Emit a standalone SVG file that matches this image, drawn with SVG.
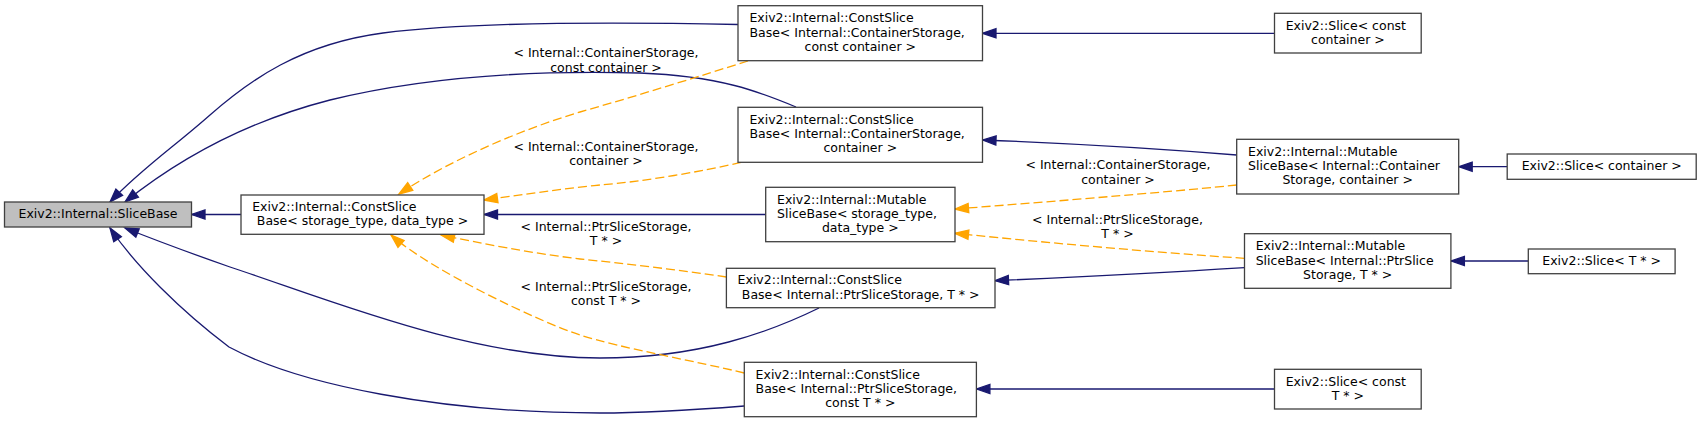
<svg xmlns="http://www.w3.org/2000/svg" width="1701" height="423" viewBox="0 0 1701 423">
<style>
text{font-family:"DejaVu Sans","Liberation Sans",sans-serif;font-size:12.5px;fill:#000}
.n rect{fill:#fff;stroke:#404040;stroke-width:1.3}
.n.f rect{fill:#bfbfbf}
.m{text-anchor:middle}
.e path{fill:none;stroke-width:1.3}
.b{stroke:#191970;marker-end:url(#ab)}
.o{stroke:#ffa500;stroke-dasharray:9,4;marker-end:url(#ao)}
</style>
<defs>
<marker id="ab" markerWidth="16" markerHeight="12" refX="13.5" refY="6" orient="auto" markerUnits="userSpaceOnUse" overflow="visible"><path d="M13.5,6 L0,1.4 L0,10.6 Z" fill="#191970" stroke="#191970" stroke-width="1.3"/></marker>
<marker id="ao" markerWidth="16" markerHeight="12" refX="13.5" refY="6" orient="auto" markerUnits="userSpaceOnUse" overflow="visible"><path d="M13.5,6 L0,1.4 L0,10.6 Z" fill="#ffa500" stroke="#ffa500" stroke-width="1.3"/></marker>
</defs>
<rect width="1701" height="423" fill="#fff"/>
<g id="edges" class="e">
<path class="b" d="M241,214.5 L191.5,214.5"/>
<path class="b" d="M738,24.5 C620,22 470,22 383,33 C300,44 250,80 210,115 C175,146 140,170 110,202"/>
<path class="b" d="M796,107 C760,92 720,76 640,73 C530,70 420,78 330,100 C260,118 190,150 125,202"/>
<path class="b" d="M819,308 C770,332 700,358 600,358 C470,358 330,300 230,267 C190,253 155,240 125,228"/>
<path class="b" d="M744.3,406 C680,411 640,413 600,413 C440,413 300,385 229,347 C180,310 135,265 110,228"/>
<path class="b" d="M765.7,214.5 L484,214.5"/>
<path class="o" d="M748,61 C700,76 640,95 580,112 C520,130 450,160 399,194"/>
<path class="o" d="M741,162.3 C700,172 640,182 600,185 C560,189 520,195 484,200"/>
<path class="o" d="M726.4,277 C680,270 620,263 580,259 C530,253 480,243 441,235"/>
<path class="o" d="M744.3,373 C700,362 620,348 580,335 C540,322 430,270 391,235"/>
<path class="b" d="M1274.5,33.3 L982.5,33.3"/>
<path class="b" d="M1236.7,155 C1150,148 1060,143 982.5,140"/>
<path class="o" d="M1236.7,185 C1190,190 1060,201 955,209"/>
<path class="o" d="M1244.5,258.3 C1150,252 1050,243 955,233.3"/>
<path class="b" d="M1244.5,267.7 C1160,273 1080,277 995,280.7"/>
<path class="b" d="M1507.2,166.7 L1458.7,166.7"/>
<path class="b" d="M1528.3,261 L1450.9,261"/>
<path class="b" d="M1274.5,389 L976.4,389"/>
<g class="m">
<text x="606" y="57">&lt; Internal::ContainerStorage,</text>
<text x="606" y="71.5">const container &gt;</text>
<text x="606" y="150.5">&lt; Internal::ContainerStorage,</text>
<text x="606" y="165">container &gt;</text>
<text x="606" y="230.5">&lt; Internal::PtrSliceStorage,</text>
<text x="606" y="244.5">T * &gt;</text>
<text x="606" y="290.5">&lt; Internal::PtrSliceStorage,</text>
<text x="606" y="305">const T * &gt;</text>
<text x="1118" y="169">&lt; Internal::ContainerStorage,</text>
<text x="1118" y="183.5">container &gt;</text>
<text x="1117.5" y="224">&lt; Internal::PtrSliceStorage,</text>
<text x="1117.5" y="238.3">T * &gt;</text>
</g>
</g>
<g id="nA" class="n f"><rect x="4.5" y="202" width="187" height="25"/><text class="m" x="98" y="218">Exiv2::Internal::SliceBase</text></g>
<g id="nB" class="n"><rect x="241" y="195" width="243" height="39.3"/><text x="252.2" y="211">Exiv2::Internal::ConstSlice</text><text class="m" x="362.5" y="225.2">Base&lt; storage_type, data_type &gt;</text></g>
<g id="nC" class="n"><rect x="738" y="5.7" width="244.5" height="55"/><text x="749.4" y="22.3">Exiv2::Internal::ConstSlice</text><text x="749.4" y="36.6">Base&lt; Internal::ContainerStorage,</text><text class="m" x="860.3" y="50.8">const container &gt;</text></g>
<g id="nD" class="n"><rect x="738" y="107.3" width="244.5" height="55"/><text x="749.4" y="124">Exiv2::Internal::ConstSlice</text><text x="749.4" y="138.2">Base&lt; Internal::ContainerStorage,</text><text class="m" x="860.3" y="152.4">container &gt;</text></g>
<g id="nE" class="n"><rect x="765.7" y="187.3" width="189.3" height="54.4"/><text x="777" y="203.8">Exiv2::Internal::Mutable</text><text x="777" y="218">SliceBase&lt; storage_type,</text><text class="m" x="860.3" y="232.2">data_type &gt;</text></g>
<g id="nF" class="n"><rect x="726.4" y="268.3" width="268.6" height="39.4"/><text x="737.6" y="284.4">Exiv2::Internal::ConstSlice</text><text class="m" x="860.7" y="298.6">Base&lt; Internal::PtrSliceStorage, T * &gt;</text></g>
<g id="nG" class="n"><rect x="744.3" y="362.3" width="232.1" height="54.4"/><text x="755.6" y="378.8">Exiv2::Internal::ConstSlice</text><text x="755.6" y="393">Base&lt; Internal::PtrSliceStorage,</text><text class="m" x="860.3" y="407.2">const T * &gt;</text></g>
<g id="nH" class="n"><rect x="1274.5" y="13.3" width="146.7" height="39.7"/><text x="1285.7" y="29.5">Exiv2::Slice&lt; const</text><text class="m" x="1347.9" y="43.7">container &gt;</text></g>
<g id="nI" class="n"><rect x="1236.7" y="139.3" width="222" height="54.7"/><text x="1248" y="156">Exiv2::Internal::Mutable</text><text x="1248" y="170.2">SliceBase&lt; Internal::Container</text><text class="m" x="1347.7" y="184.4">Storage, container &gt;</text></g>
<g id="nJ" class="n"><rect x="1507.2" y="154" width="189" height="25.3"/><text class="m" x="1601.7" y="170.2">Exiv2::Slice&lt; container &gt;</text></g>
<g id="nK" class="n"><rect x="1244.5" y="233.7" width="206.4" height="54.6"/><text x="1255.7" y="250.3">Exiv2::Internal::Mutable</text><text x="1255.7" y="264.5">SliceBase&lt; Internal::PtrSlice</text><text class="m" x="1347.7" y="278.7">Storage, T * &gt;</text></g>
<g id="nL" class="n"><rect x="1528.3" y="249" width="146.8" height="24.7"/><text class="m" x="1601.7" y="264.8">Exiv2::Slice&lt; T * &gt;</text></g>
<g id="nM" class="n"><rect x="1274.5" y="369.3" width="146.7" height="39.7"/><text x="1285.7" y="385.5">Exiv2::Slice&lt; const</text><text class="m" x="1347.9" y="399.7">T * &gt;</text></g>
</svg>
